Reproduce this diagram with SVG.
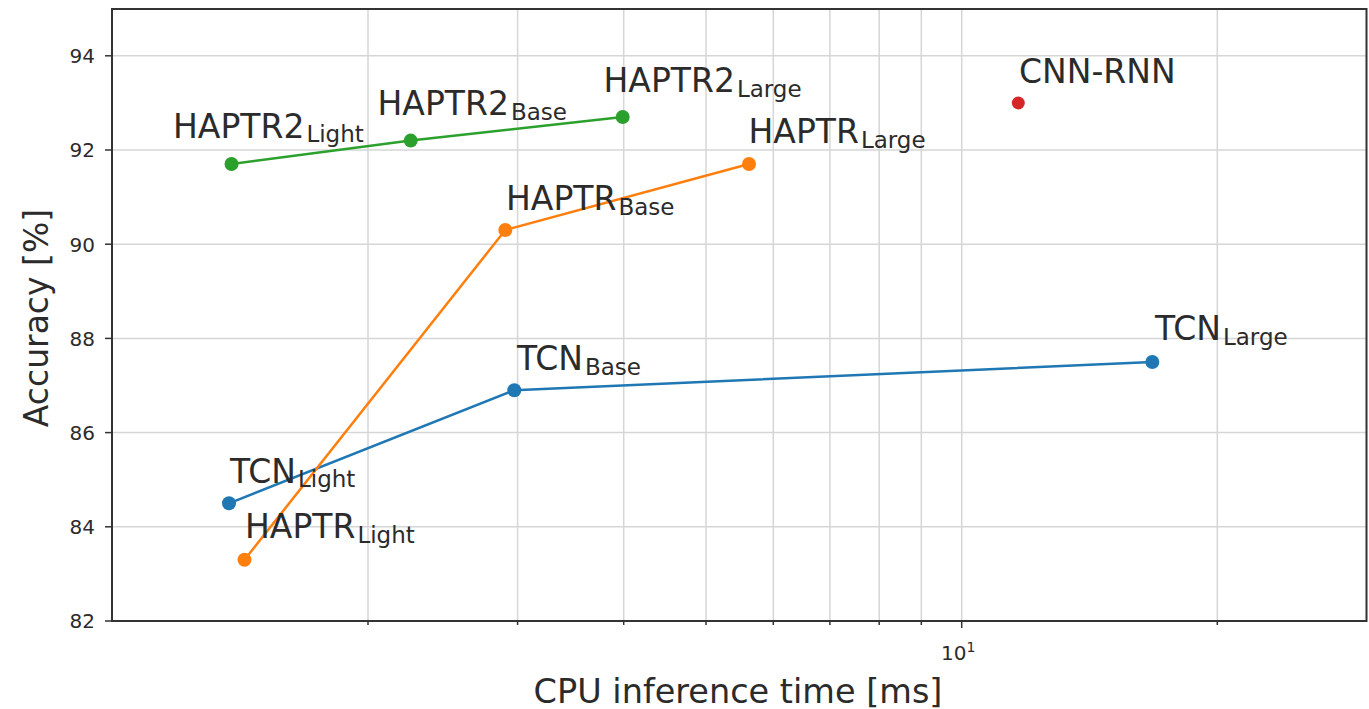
<svg xmlns="http://www.w3.org/2000/svg" width="1369" height="709" viewBox="0 0 1369 709">
<style>
text{font-family:"DejaVu Sans",sans-serif;fill:#2b2b2b}
.grid line{stroke:#d6d6d6;stroke-width:1.5}
.tick line{stroke:#333;stroke-width:1.5}
.ytl{font-size:20px;text-anchor:end}
.lab{font-size:33px}
.sub{font-size:23px}
.ser{fill:none;stroke-width:2.5}
</style>
<rect width="1369" height="709" fill="#fff"/>
<g class="grid">
<line x1="112" y1="526.8" x2="1366.5" y2="526.8"/>
<line x1="112" y1="432.6" x2="1366.5" y2="432.6"/>
<line x1="112" y1="338.4" x2="1366.5" y2="338.4"/>
<line x1="112" y1="244.2" x2="1366.5" y2="244.2"/>
<line x1="112" y1="150" x2="1366.5" y2="150"/>
<line x1="112" y1="55.8" x2="1366.5" y2="55.8"/>
<line x1="368" y1="9" x2="368" y2="621"/>
<line x1="517.6" y1="9" x2="517.6" y2="621"/>
<line x1="623.7" y1="9" x2="623.7" y2="621"/>
<line x1="706" y1="9" x2="706" y2="621"/>
<line x1="773.3" y1="9" x2="773.3" y2="621"/>
<line x1="829.9" y1="9" x2="829.9" y2="621"/>
<line x1="879.2" y1="9" x2="879.2" y2="621"/>
<line x1="921.3" y1="9" x2="921.3" y2="621"/>
<line x1="961.7" y1="9" x2="961.7" y2="621"/>
<line x1="1217.3" y1="9" x2="1217.3" y2="621"/>
</g>
<g class="tick">
<line x1="105" y1="621" x2="112" y2="621"/>
<line x1="105" y1="526.8" x2="112" y2="526.8"/>
<line x1="105" y1="432.6" x2="112" y2="432.6"/>
<line x1="105" y1="338.4" x2="112" y2="338.4"/>
<line x1="105" y1="244.2" x2="112" y2="244.2"/>
<line x1="105" y1="150" x2="112" y2="150"/>
<line x1="105" y1="55.8" x2="112" y2="55.8"/>
<line x1="368" y1="621" x2="368" y2="625"/>
<line x1="517.6" y1="621" x2="517.6" y2="625"/>
<line x1="623.7" y1="621" x2="623.7" y2="625"/>
<line x1="706" y1="621" x2="706" y2="625"/>
<line x1="773.3" y1="621" x2="773.3" y2="625"/>
<line x1="829.9" y1="621" x2="829.9" y2="625"/>
<line x1="879.2" y1="621" x2="879.2" y2="625"/>
<line x1="921.3" y1="621" x2="921.3" y2="625"/>
<line x1="961.7" y1="621" x2="961.7" y2="628"/>
<line x1="1217.3" y1="621" x2="1217.3" y2="625"/>
</g>
<rect x="112" y="9" width="1254.5" height="612" fill="none" stroke="#333" stroke-width="2"/>
<g id="yticklabels">
<text class="ytl" x="95" y="628">82</text>
<text class="ytl" x="95" y="534">84</text>
<text class="ytl" x="95" y="440">86</text>
<text class="ytl" x="95" y="345.5">88</text>
<text class="ytl" x="95" y="251.5">90</text>
<text class="ytl" x="95" y="157">92</text>
<text class="ytl" x="95" y="63">94</text>
</g>
<text id="xtick10" x="941" y="660" font-size="20">10<tspan font-size="14" dy="-8">1</tspan></text>
<text id="xlabel" x="738" y="703" font-size="33.5" text-anchor="middle">CPU inference time [ms]</text>
<text id="ylabel" transform="translate(48,318) rotate(-90)" font-size="33" text-anchor="middle">Accuracy [%]</text>
<g id="connectors">
<polyline class="ser" stroke="#1f77b4" points="229,503.3 514.3,390.2 1152.3,362"/>
<polyline class="ser" stroke="#ff7f0e" points="244.5,559.8 505.3,230 749,164"/>
<polyline class="ser" stroke="#2ca02c" points="231.5,164 410.7,140.6 622.7,117"/>
</g>
<g id="tcn-light"><circle cx="229" cy="503.3" r="7" fill="#1f77b4"/><text class="lab" x="230" y="482.7">TCN<tspan class="sub" dx="2" dy="4.5">Light</tspan></text></g>
<g id="tcn-base"><circle cx="514.3" cy="390.2" r="7" fill="#1f77b4"/><text class="lab" x="517" y="370">TCN<tspan class="sub" dx="2" dy="4.5">Base</tspan></text></g>
<g id="tcn-large"><circle cx="1152.3" cy="362" r="7" fill="#1f77b4"/><text class="lab" x="1155" y="340">TCN<tspan class="sub" dx="2" dy="4.5">Large</tspan></text></g>
<g id="haptr-light"><circle cx="244.5" cy="559.8" r="7" fill="#ff7f0e"/><text class="lab" x="245" y="538.3">HAPTR<tspan class="sub" dx="2" dy="4.5">Light</tspan></text></g>
<g id="haptr-base"><circle cx="505.3" cy="230" r="7" fill="#ff7f0e"/><text class="lab" x="506" y="210">HAPTR<tspan class="sub" dx="2" dy="4.5">Base</tspan></text></g>
<g id="haptr-large"><circle cx="749" cy="164" r="7" fill="#ff7f0e"/><text class="lab" x="748.5" y="143.3">HAPTR<tspan class="sub" dx="2" dy="4.5">Large</tspan></text></g>
<g id="haptr2-light"><circle cx="231.5" cy="164" r="7" fill="#2ca02c"/><text class="lab" x="173" y="137.5">HAPTR2<tspan class="sub" dx="2" dy="4.5">Light</tspan></text></g>
<g id="haptr2-base"><circle cx="410.7" cy="140.6" r="7" fill="#2ca02c"/><text class="lab" x="377.5" y="115">HAPTR2<tspan class="sub" dx="2" dy="4.5">Base</tspan></text></g>
<g id="haptr2-large"><circle cx="622.7" cy="117" r="7" fill="#2ca02c"/><text class="lab" x="603.5" y="92.3">HAPTR2<tspan class="sub" dx="2" dy="4.5">Large</tspan></text></g>
<g id="cnn-rnn"><circle cx="1018.3" cy="103" r="6.5" fill="#d62728"/><text class="lab" x="1019" y="83.3">CNN-RNN</text></g>
</svg>
